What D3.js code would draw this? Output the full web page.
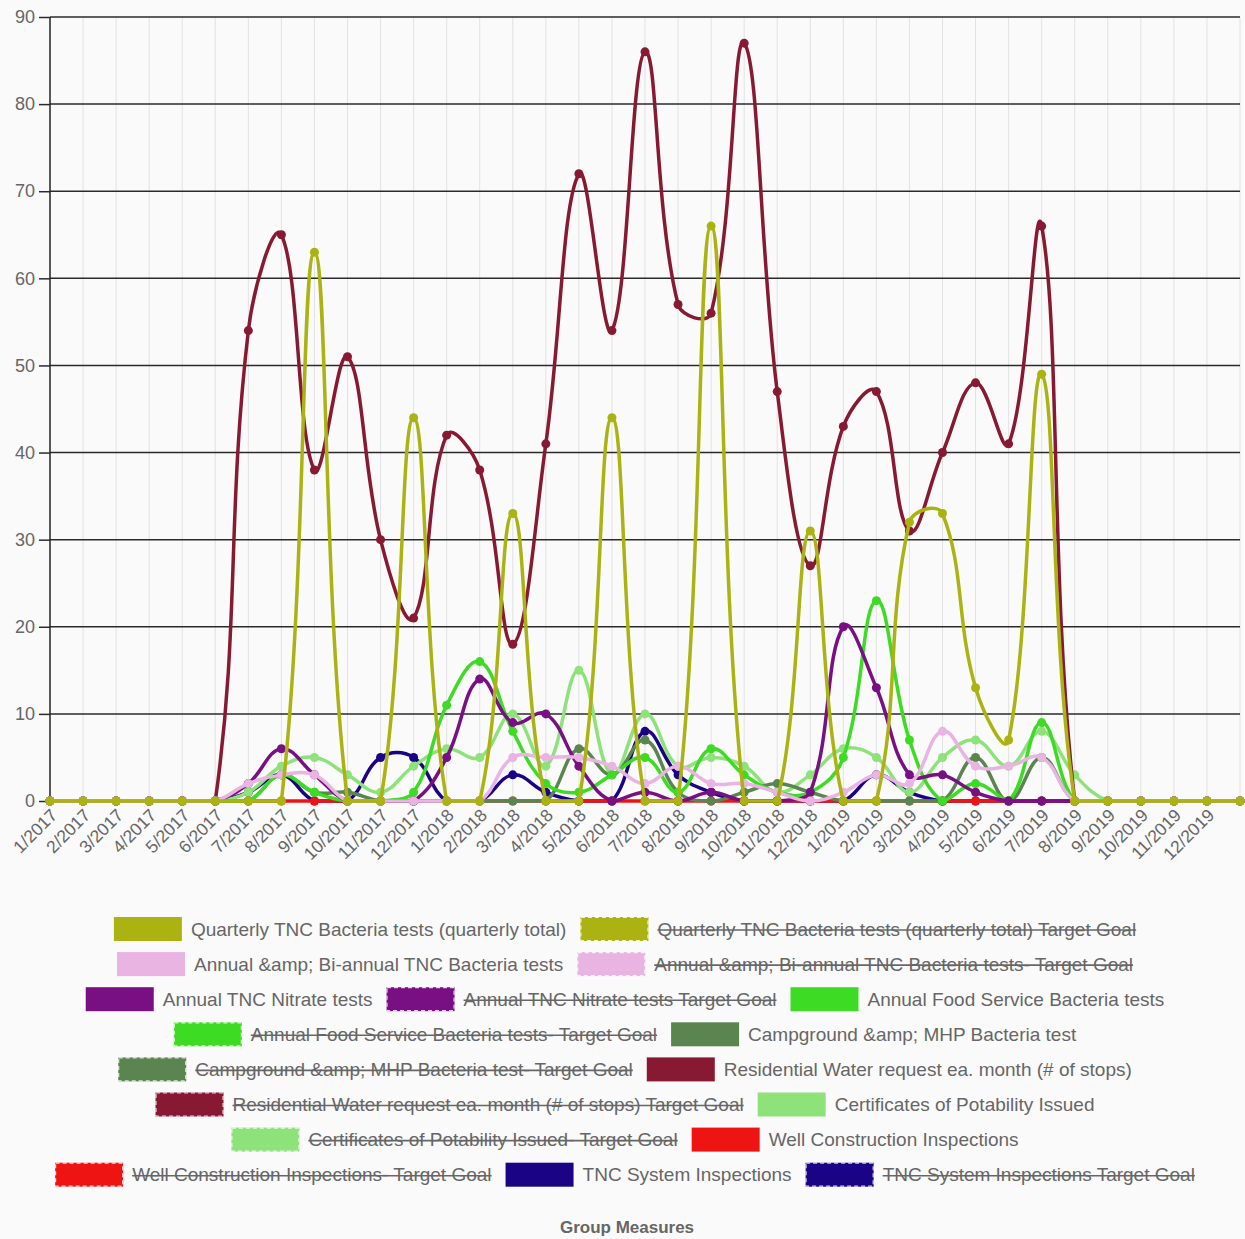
<!DOCTYPE html>
<html>
<head>
<meta charset="utf-8">
<script src="https://cdn.jsdelivr.net/npm/d3@7"></script>
<style>
  html, body { margin: 0; padding: 0; background: #fafafa; }
  svg { display: block; font-family: "Liberation Sans", Arial, sans-serif; }
  .tick text { fill: #666; }
</style>
</head>
<body>
<div id="chart"></div>
<script>
/* ===== data ===== */
const MONTHS = [
  "1/2017","2/2017","3/2017","4/2017","5/2017","6/2017","7/2017","8/2017","9/2017","10/2017","11/2017","12/2017",
  "1/2018","2/2018","3/2018","4/2018","5/2018","6/2018","7/2018","8/2018","9/2018","10/2018","11/2018","12/2018",
  "1/2019","2/2019","3/2019","4/2019","5/2019","6/2019","7/2019","8/2019","9/2019","10/2019","11/2019","12/2019",
  ""
];
const Y_TICKS = [0,10,20,30,40,50,60,70,80,90];

const quarterly    = [0,0,0,0,0,0,0,0,63,0,0,44,0,0,33,0,0,44,0,0,66,0,0,31,0,0,32,33,13,7,49,0,0,0,0,0,0];
const annualBi     = [0,0,0,0,0,0,2,3,3,0,0,0,0,0,5,5,5,4,2,4,2,2,1,0,1,3,2,8,4,4,5,0,0,0,0,0,0];
const nitrate      = [0,0,0,0,0,0,2,6,3,0,0,0,5,14,9,10,4,0,1,0,1,0,0,1,20,13,3,3,1,0,0,0,0,0,0,0,0];
const foodService  = [0,0,0,0,0,0,0,3,1,0,0,1,11,16,8,2,1,3,5,1,6,3,1,1,5,23,7,0,2,0,9,0,0,0,0,0,0];
const campground   = [0,0,0,0,0,0,0,3,1,1,0,0,0,0,0,0,6,3,7,1,0,1,2,1,0,0,0,0,5,0,5,0,0,0,0,0,0];
const residential  = [0,0,0,0,0,0,54,65,38,51,30,21,42,38,18,41,72,54,86,57,56,87,47,27,43,47,31,40,48,41,66,0,0,0,0,0,0];
const certificates = [0,0,0,0,0,0,1,4,5,3,1,4,6,5,10,4,15,3,10,4,5,4,1,3,6,5,1,5,7,4,8,3,0,0,0,0,0];
const wellConstr   = [0,0,0,0,0,0,0,0,0,0,0,0,0,0,0,0,0,0,0,0,0,0,0,0,0,0,0,0,0,0,0,0,0,0,0,0,0];
const tncSystem    = [0,0,0,0,0,0,1,3,0,0,5,5,0,0,3,1,0,0,8,3,1,0,0,0,0,3,1,0,0,0,0,0,0,0,0,0,0];

// legend order; "Target Goal" series are hidden (no data drawn)
const SERIES = [
  { name: "Quarterly TNC Bacteria tests (quarterly total)", color: "#aab311", values: quarterly },
  { name: "Quarterly TNC Bacteria tests (quarterly total) Target Goal", color: "#aab311", hidden: true },
  { name: "Annual &amp; Bi-annual TNC Bacteria tests", color: "#e9b3e2", values: annualBi },
  { name: "Annual &amp; Bi-annual TNC Bacteria tests- Target Goal", color: "#e9b3e2", hidden: true },
  { name: "Annual TNC Nitrate tests", color: "#780f83", values: nitrate },
  { name: "Annual TNC Nitrate tests Target Goal", color: "#780f83", hidden: true },
  { name: "Annual Food Service Bacteria tests", color: "#3ddb23", values: foodService },
  { name: "Annual Food Service Bacteria tests- Target Goal", color: "#3ddb23", hidden: true },
  { name: "Campground &amp; MHP Bacteria test", color: "#5a8550", values: campground },
  { name: "Campground &amp; MHP Bacteria test- Target Goal", color: "#5a8550", hidden: true },
  { name: "Residential Water request ea. month (# of stops)", color: "#871a32", values: residential },
  { name: "Residential Water request ea. month (# of stops) Target Goal", color: "#871a32", hidden: true },
  { name: "Certificates of Potability Issued", color: "#8ee27a", values: certificates },
  { name: "Certificates of Potability Issued- Target Goal", color: "#8ee27a", hidden: true },
  { name: "Well Construction Inspections", color: "#ee1414", values: wellConstr },
  { name: "Well Construction Inspections- Target Goal", color: "#ee1414", hidden: true },
  { name: "TNC System Inspections", color: "#1b0386", values: tncSystem },
  { name: "TNC System Inspections Target Goal", color: "#1b0386", hidden: true }
];

/* ===== layout ===== */
const W = 1245, H = 1239;
const PL = 50, PR = 1240, PT = 17, PB = 801;

const svg = d3.select("#chart").append("svg").attr("width", W).attr("height", H);

const x = d3.scalePoint().domain(d3.range(MONTHS.length)).range([PL, PR]);
const y = d3.scaleLinear().domain([0, 90]).range([PB, PT]);

// vertical grid (light)
svg.append("g")
  .selectAll("line").data(d3.range(1, MONTHS.length)).join("line")
  .attr("x1", d => x(d)).attr("x2", d => x(d))
  .attr("y1", PT).attr("y2", PB)
  .attr("stroke", "#e2e2e2").attr("stroke-width", 1);

// horizontal grid (dark)
svg.append("g")
  .selectAll("line").data(Y_TICKS).join("line")
  .attr("x1", PL).attr("x2", PR)
  .attr("y1", d => y(d)).attr("y2", d => y(d))
  .attr("stroke", "#2a2a2a").attr("stroke-width", 1.5);

// y axis
const yAx = svg.append("g").attr("transform", `translate(${PL},0)`)
  .call(d3.axisLeft(y).tickValues(Y_TICKS).tickSize(11).tickPadding(4));
yAx.select(".domain").attr("stroke", "#222").attr("stroke-width", 1.5).attr("d", `M0,${PT}V${PB}`);
yAx.selectAll(".tick line").attr("stroke", "#2a2a2a").attr("stroke-width", 1.5);
yAx.selectAll(".tick text").style("font-size", "18px").style("font-family", "'Liberation Sans', Arial, sans-serif");

// x labels (rotated)
svg.append("g")
  .selectAll("text").data(d3.range(MONTHS.length)).join("text")
  .attr("transform", d => `translate(${x(d) + 4},${PB + 11}) rotate(-45)`)
  .attr("text-anchor", "end")
  .attr("dy", "0.35em")
  .attr("fill", "#666")
  .style("font-size", "17.5px")
  .text(d => MONTHS[d]);

/* ===== chart.js-like spline (tension 0.4, capped to chart area) ===== */
function splineCurve(context) {
  let pts;
  const T = 0.4;
  const cap = v => Math.max(PT, Math.min(PB, v));
  return {
    areaStart() {}, areaEnd() {},
    lineStart() { pts = []; },
    point(px, py) { pts.push([px, py]); },
    lineEnd() {
      const n = pts.length;
      const cps = pts.map((p, i) => {
        const prev = pts[Math.max(0, i - 1)], next = pts[Math.min(n - 1, i + 1)];
        const d01 = Math.hypot(p[0] - prev[0], p[1] - prev[1]);
        const d12 = Math.hypot(next[0] - p[0], next[1] - p[1]);
        let s01 = d01 / (d01 + d12), s12 = d12 / (d01 + d12);
        if (!isFinite(s01)) s01 = 0;
        if (!isFinite(s12)) s12 = 0;
        const fa = T * s01, fb = T * s12;
        return {
          px: p[0] - fa * (next[0] - prev[0]), py: cap(p[1] - fa * (next[1] - prev[1])),
          nx: p[0] + fb * (next[0] - prev[0]), ny: cap(p[1] + fb * (next[1] - prev[1]))
        };
      });
      context.moveTo(pts[0][0], pts[0][1]);
      for (let i = 1; i < n; i++) {
        context.bezierCurveTo(cps[i - 1].nx, cps[i - 1].ny, cps[i].px, cps[i].py, pts[i][0], pts[i][1]);
      }
    }
  };
}

const line = d3.line().x((d, i) => x(i)).y(d => y(d)).curve(splineCurve);

// first dataset drawn on top -> draw in reverse
const visible = SERIES.filter(s => !s.hidden).slice().reverse();
const gSeries = svg.append("g").selectAll("g").data(visible).join("g");
gSeries.append("path")
  .attr("d", s => line(s.values))
  .attr("fill", "none")
  .attr("stroke", s => s.color)
  .attr("stroke-width", 3.5);
gSeries.selectAll("circle").data(s => s.values.map(v => ({ v, c: s.color }))).join("circle")
  .attr("cx", (d, i) => x(i)).attr("cy", d => y(d.v))
  .attr("r", 4.5)
  .attr("fill", d => d.c);

/* ===== legend ===== */
const BOX_W = 68, BOX_H = 24, TXT_OFF = 77, GAP = 14, ROW_H = 35.1, ROW0 = 929, MAXW = 1200, CX = 625;
const legend = svg.append("g");
const items = legend.selectAll("g").data(SERIES).join("g");
items.append("rect")
  .attr("x", 0).attr("y", -BOX_H / 2).attr("width", BOX_W).attr("height", BOX_H)
  .attr("fill", d => d.color);
items.filter(d => d.hidden).append("rect")
  .attr("x", 0.5).attr("y", -BOX_H / 2 + 0.5).attr("width", BOX_W - 1).attr("height", BOX_H - 1)
  .attr("fill", "none").attr("stroke", "#fff").attr("stroke-opacity", 0.8)
  .attr("stroke-dasharray", "4,3").attr("stroke-width", 1.2);
items.append("text")
  .attr("x", TXT_OFF).attr("dy", "0.35em")
  .attr("fill", "#666")
  .style("font-size", "19px")
  .text(d => d.name);
items.each(function (d) {
  d.tw = d3.select(this).select("text").node().getComputedTextLength();
  d.w = TXT_OFF + d.tw;
});
items.filter(d => d.hidden).append("line")
  .attr("x1", TXT_OFF).attr("x2", d => TXT_OFF + d.tw)
  .attr("y1", 1).attr("y2", 1)
  .attr("stroke", "#666").attr("stroke-width", 1.6);

// flow rows
const rows = [[]];
let cur = 0;
SERIES.forEach(d => {
  const add = (rows[rows.length - 1].length ? GAP : 0) + d.w;
  if (cur + add > MAXW && rows[rows.length - 1].length) { rows.push([d]); cur = d.w; }
  else { rows[rows.length - 1].push(d); cur += add; }
});
rows.forEach((r, ri) => {
  const total = d3.sum(r, d => d.w) + GAP * (r.length - 1);
  let xx = CX - total / 2;
  r.forEach(d => { d.lx = xx; d.ly = ROW0 + ri * ROW_H; xx += d.w + GAP; });
});
items.attr("transform", d => `translate(${d.lx},${d.ly})`);

// title
svg.append("text")
  .attr("x", 627).attr("y", 1233)
  .attr("text-anchor", "middle")
  .attr("fill", "#666")
  .style("font-size", "17px").style("font-weight", "bold")
  .text("Group Measures");
</script>
</body>
</html>
